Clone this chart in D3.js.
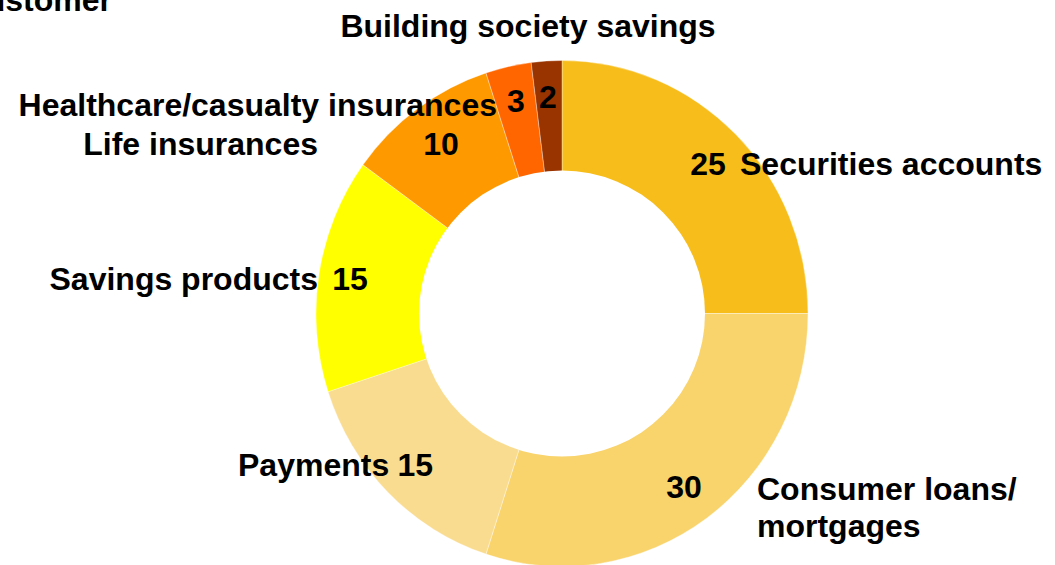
<!DOCTYPE html>
<html><head><meta charset="utf-8">
<script src="https://cdn.jsdelivr.net/npm/d3@7"></script>
<style>
html,body{margin:0;padding:0;background:#fff;overflow:hidden;}
text{font-family:"Liberation Sans",Arial,sans-serif;font-weight:bold;fill:#000;}
</style></head>
<body><svg id="chart" width="1055" height="565"></svg>
<script>
const categories = ["Securities accounts","Consumer loans/mortgages","Payments","Savings products","Life insurances","Healthcare/casualty insurances","Building society savings"];
const values = [25, 30, 15, 15, 10, 3, 2];
const colors = ["#F7BD1B","#F9D36B","#FADC90","#FFFF00","#FF9900","#FF6600","#993300"];
const titleText = "Customer";

// label layout (text positions only)
const nameLayout = [
  {lines:["Securities accounts"], x:740, y:175, anchor:"start"},
  {lines:["Consumer loans/","mortgages"], x:757, y:500, anchor:"start"},
  {lines:["Payments"], x:238, y:476, anchor:"start"},
  {lines:["Savings products"], x:318, y:290, anchor:"end"},
  {lines:["Life insurances"], x:318, y:155, anchor:"end"},
  {lines:["Healthcare/casualty insurances"], x:497, y:116, anchor:"end"},
  {lines:["Building society savings"], x:528, y:37, anchor:"middle"}
];
const valueLayout = [
  {x:708, y:175, anchor:"middle"},{x:684, y:498, anchor:"middle"},{x:433, y:476, anchor:"end"},{x:350, y:290, anchor:"middle"},
  {x:441, y:155, anchor:"middle"},{x:516, y:112, anchor:"middle"},{x:548, y:108, anchor:"middle"}
];

const svg = d3.select("#chart");
const cx = 562, cy = 313.5, rx = 246, ry = 253, rInner = 143;

const pie = d3.pie().sort(null).value(d => d)(values);
const arc = d3.arc().innerRadius(0).outerRadius(rx);

const g = svg.append("g").attr("transform", `translate(${cx},${cy}) scale(1,${ry/rx})`);
g.selectAll("path").data(pie).join("path")
  .attr("d", arc)
  .attr("fill", (d,i) => colors[i])
  .attr("stroke", "#fff").attr("stroke-width", 0.6).attr("stroke-opacity", 0.6);
svg.append("circle").attr("cx", cx).attr("cy", cy).attr("r", rInner).attr("fill", "#fff");

const fs = 32;
svg.append("text").attr("x", 112).attr("y", 11).attr("text-anchor","end").attr("font-size", fs).text(titleText);

nameLayout.forEach((L, i) => {
  const t = svg.append("text").attr("x", L.x).attr("y", L.y).attr("text-anchor", L.anchor).attr("font-size", fs);
  L.lines.forEach((ln, k) => t.append("tspan").attr("x", L.x).attr("dy", k ? 37 : 0).text(ln));
});
valueLayout.forEach((V, i) => {
  svg.append("text").attr("x", V.x).attr("y", V.y).attr("text-anchor", V.anchor).attr("font-size", fs).text(values[i]);
});
</script></body></html>
